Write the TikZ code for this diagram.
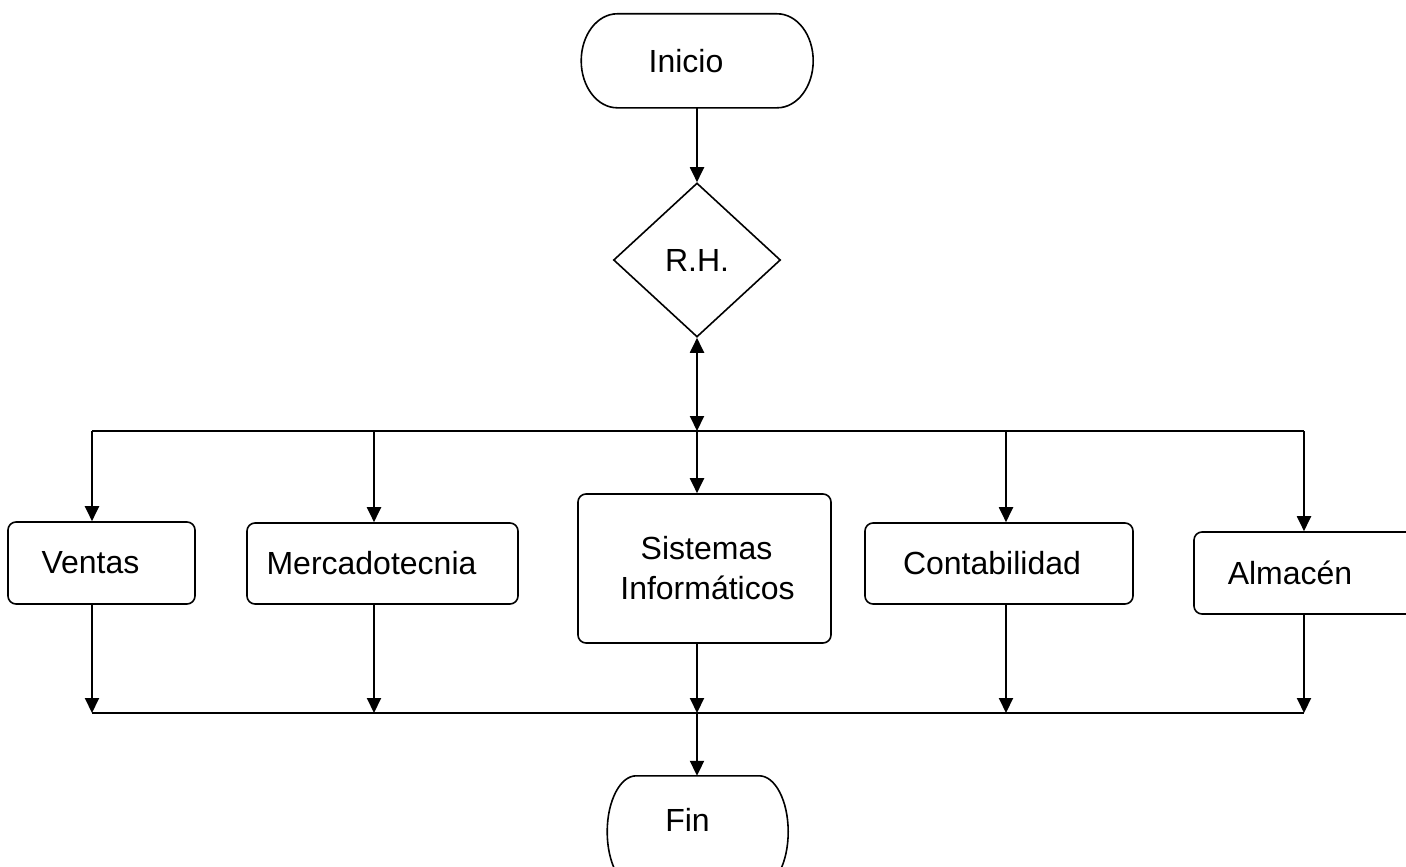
\documentclass[tikz,border=0pt]{standalone}
\usepackage{fontspec}
\setmainfont{Liberation Sans}
\usetikzlibrary{shapes.geometric,arrows.meta}
\begin{document}
\begin{tikzpicture}[x=1pt,y=-1pt,
  font=\fontsize{32}{40}\selectfont,
  box/.style={draw,line width=1.6pt,rounded corners=8pt,inner sep=0pt,align=center},
  terminal/.style={inner sep=0pt},
  outline/.style={draw,line width=1.6pt},
  decision/.style={draw,diamond,line width=1.6pt,inner sep=0pt},
  link/.style={line width=2pt},
  flow/.style={link,-{Triangle[length=15pt,width=14pt]}},
  both/.style={link,{Triangle[length=15pt,width=14pt]}-{Triangle[length=15pt,width=14pt]}}]
\useasboundingbox (0,0) rectangle (1406,867);

% start / decision / end
\node[terminal,minimum width=232pt,minimum height=94pt] (ini) at (697,61) {Inicio\hspace*{22pt}};
\draw[outline] ([xshift=36pt]ini.north west) -- ([xshift=-36pt]ini.north east)
  arc[start angle=90,end angle=-90,x radius=36pt,y radius=47pt] -- ++(-160pt,0)
  arc[start angle=270,end angle=90,x radius=36pt,y radius=47pt] -- cycle;

\node[decision,minimum width=167pt,minimum height=154pt] (rh) at (697,260) {R.H.};

\node[terminal,minimum width=181pt,minimum height=88pt] (fin) at (697.5,820) {Fin\hspace*{20pt}};
\draw[outline] ([xshift=29pt]fin.north west) -- ([xshift=-29pt]fin.north east)
  arc[start angle=90,end angle=-90,x radius=29pt,y radius=56pt] -- ++(-123pt,0)
  arc[start angle=270,end angle=90,x radius=29pt,y radius=56pt] -- cycle;

% departments
\node[box,minimum width=187pt,minimum height=82pt] (ven) at (101.5,563) {Ventas\hspace*{22pt}};
\node[box,minimum width=271pt,minimum height=81pt] (mer) at (382.5,563.5) {Mercadotecnia\hspace*{22pt}};
\node[box,minimum width=253pt,minimum height=149pt] (sis) at (704.5,568.5) {\hspace*{4pt}Sistemas\\\hspace*{6pt}Informáticos};
\node[box,minimum width=268pt,minimum height=81pt] (con) at (999,563.5) {Contabilidad\hspace*{14pt}};
\node[box,minimum width=220pt,minimum height=82pt] (alm) at (1304,573) {Almacén\hspace*{28pt}};

% distribution bus
\coordinate (t1) at (92,431);
\coordinate (t2) at (374,431);
\coordinate (t3) at (697,431);
\coordinate (t4) at (1006,431);
\coordinate (t5) at (1304,431);
% collecting bus
\coordinate (b1) at (92,713);
\coordinate (b2) at (374,713);
\coordinate (b3) at (697,713);
\coordinate (b4) at (1006,713);
\coordinate (b5) at (1304,713);

\draw[flow] (ini) -- (rh);
\draw[both] (rh.south) -- (t3);
\draw[link] (t1) -- (t5);
\draw[link] (b1) -- (b5);

\draw[flow] (t1) -- (t1 |- ven.north);
\draw[flow] (t2) -- (t2 |- mer.north);
\draw[flow] (t3) -- (t3 |- sis.north);
\draw[flow] (t4) -- (t4 |- con.north);
\draw[flow] (t5) -- (t5 |- alm.north);

\draw[flow] (b1 |- ven.south) -- (b1);
\draw[flow] (b2 |- mer.south) -- (b2);
\draw[flow] (b3 |- sis.south) -- (b3);
\draw[flow] (b4 |- con.south) -- (b4);
\draw[flow] (b5 |- alm.south) -- (b5);

\draw[flow] (b3) -- (fin.north -| b3);
\end{tikzpicture}
\end{document}
